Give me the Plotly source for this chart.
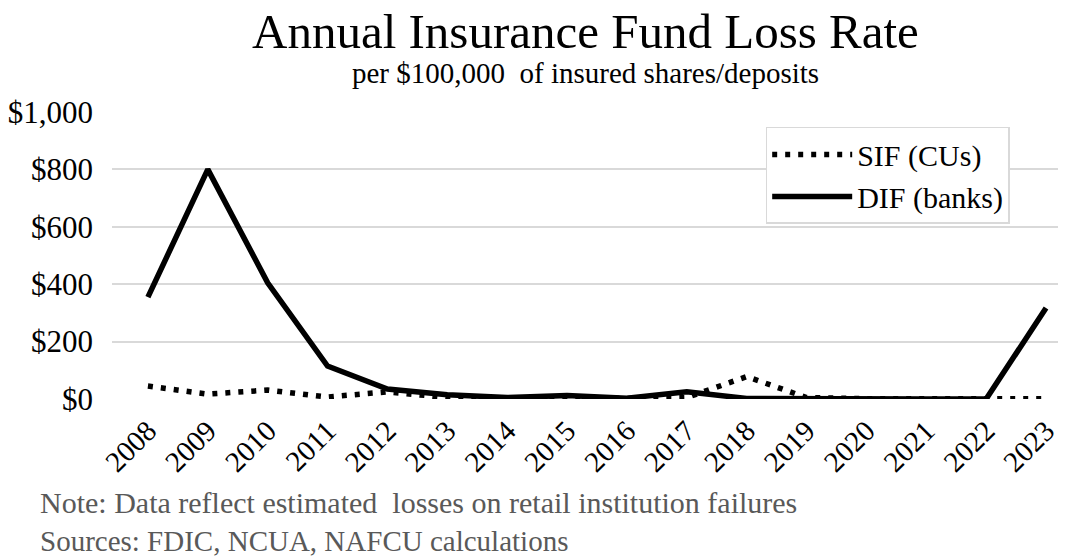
import plotly.graph_objects as go

years = [str(y) for y in range(2008, 2024)]
dif_banks = [355, 800, 405, 115, 35, 15, 5, 12, 3, 25, 2, 0, 0, 0, 0, 317]
sif_cus = [45, 17, 31, 7, 25, 5, 3, 5, 2, 5, 78, 5, 1, 0, 2, 1]
y_ticks = [0, 200, 400, 600, 800, 1000]
y_labels = ["$0", "$200", "$400", "$600", "$800", "$1,000"]

xi = list(range(len(years)))
FONT = "Liberation Serif, Times New Roman, serif"

fig = go.Figure()
fig.add_trace(go.Scatter(x=xi, y=sif_cus, mode="lines", name="SIF (CUs)",
                         line=dict(color="black", width=5.5, dash="5px,8px")))
fig.add_trace(go.Scatter(x=xi, y=dif_banks, mode="lines", name="DIF (banks)",
                         line=dict(color="black", width=5.5)))

fig.update_layout(
    width=1066, height=557,
    paper_bgcolor="white", plot_bgcolor="white",
    margin=dict(l=112, r=6, t=112, b=158),
    font=dict(family=FONT, color="black", size=30),
    xaxis=dict(
        tickmode="array", tickvals=xi, ticktext=years, tickangle=-45,
        range=[-0.6, 15.2], showgrid=False, zeroline=False, showline=False,
        ticks="", tickfont=dict(size=29, family=FONT), ticklabelstandoff=8,
    ),
    yaxis=dict(
        tickmode="array", tickvals=y_ticks, ticktext=y_labels,
        range=[0, 1000], showgrid=True, gridcolor="#d9d9d9", gridwidth=1.5,
        zeroline=False, showline=False, ticks="", ticklabelstandoff=18,
        tickfont=dict(size=31, family=FONT),
    ),
    legend=dict(
        x=0.691, y=0.948, xanchor="left", yanchor="top",
        bordercolor="#d9d9d9", borderwidth=1.5, bgcolor="white",
        font=dict(size=30, family=FONT), itemwidth=80,
        tracegroupgap=8,
    ),
    showlegend=True,
)

fig.add_annotation(
    text="Annual Insurance Fund Loss Rate",
    xref="paper", yref="paper", x=0.5, y=1.279, xanchor="center", yanchor="middle",
    showarrow=False, font=dict(size=49, color="black", family=FONT),
)
fig.add_annotation(
    text="per $100,000  of insured shares/deposits",
    xref="paper", yref="paper", x=0.5, y=1.136, xanchor="center", yanchor="middle",
    showarrow=False, font=dict(size=29, color="black", family=FONT),
)
fig.add_annotation(
    text="Note: Data reflect estimated  losses on retail institution failures",
    xref="paper", yref="paper", x=-0.078, y=-0.362, xanchor="left", yanchor="middle",
    showarrow=False, align="left", font=dict(size=30, color="#595959", family=FONT),
)
fig.add_annotation(
    text="Sources: FDIC, NCUA, NAFCU calculations",
    xref="paper", yref="paper", x=-0.078, y=-0.495, xanchor="left", yanchor="middle",
    showarrow=False, align="left", font=dict(size=29, color="#595959", family=FONT),
)

fig.write_html("out.html")
